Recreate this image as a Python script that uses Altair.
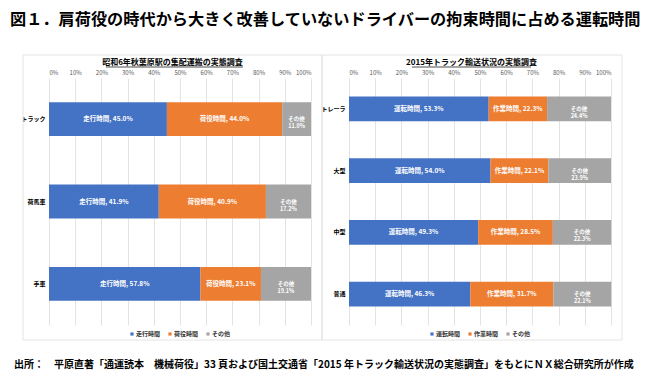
import altair as alt
import pandas as pd

title_text = "図１．肩荷役の時代から大きく改善していないドライバーの拘束時間に占める運転時間"
source_text = "出所：　平原直著「通運読本　機械荷役」33 頁および国土交通省「2015 年トラック輸送状況の実態調査」をもとにＮＸ総合研究所が作成"

left_title = "昭和6年秋葉原駅の集配運搬の実態調査"
left_categories = ["トラック", "荷馬車", "手車"]
left_series = ["走行時間", "荷役時間", "その他"]
left_run = [45.0, 41.9, 57.8]
left_handling = [44.0, 40.9, 23.1]
left_other = [11.0, 17.2, 19.1]

right_title = "2015年トラック輸送状況の実態調査"
right_categories = ["トレーラ", "大型", "中型", "普通"]
right_series = ["運転時間", "作業時間", "その他"]
right_drive = [53.3, 54.0, 49.3, 46.3]
right_work = [22.3, 22.1, 28.5, 31.7]
right_other = [24.4, 23.9, 22.3, 22.1]

tick_values = list(range(0, 101, 10))
colors = ["#4472C4", "#ED7D31", "#A5A5A5"]
FONT = "Noto Sans CJK JP"
W, H = 262, 247


def build_df(categories, series, cols):
    rows = []
    for i, cat in enumerate(categories):
        start = 0.0
        for j, s in enumerate(series):
            v = cols[j][i]
            last = j == len(series) - 1
            label = f"{s}\n{v:.1f}%" if last else f"{s}, {v:.1f}%"
            rows.append(dict(cat=cat, series=s, order=j, value=v, start=start,
                             end=start + v, mid=start + v / 2, label=label,
                             small=last))
            start += v
    return pd.DataFrame(rows)


dummy = pd.DataFrame({"a": [0]})

x_axis = alt.Axis(orient="top", values=tick_values, labelExpr="datum.value + '%'",
                  title=None, domain=False, ticks=False, grid=True, gridColor="#DCDCDC",
                  gridWidth=0.8, labelFont=FONT, labelFontSize=6, labelColor="#595959",
                  labelPadding=3, labelOverlap=False)
y_axis = alt.Axis(title=None, orient="left", domain=False, ticks=False,
                  labelFont=FONT, labelFontSize=6, labelFontWeight="bold",
                  labelColor="#000000", labelPadding=4)
xscale = alt.Scale(domain=[0, 100], nice=False)


def panel(df, categories, series, title, pad_inner, frame, sub_center,
          underline, legend_x, extras=()):
    yscale = alt.Scale(paddingInner=pad_inner, paddingOuter=pad_inner / 2)
    yenc = alt.Y("cat:N", sort=categories, scale=yscale, axis=y_axis)
    fr = alt.Chart(dummy).mark_rect(fillOpacity=0, stroke="#E4E4E4", strokeWidth=1).encode(
        x=alt.value(frame[0]), x2=alt.value(frame[1]),
        y=alt.value(frame[2]), y2=alt.value(frame[3]))
    sub = alt.Chart(dummy).mark_text(font=FONT, fontSize=8, fontWeight="bold",
                                     color="#000000", baseline="middle").encode(
        x=alt.value(sub_center), y=alt.value(-15), text=alt.value(title))
    ul = alt.Chart(dummy).mark_rule(color="#000000", strokeWidth=0.7).encode(
        x=alt.value(underline[0]), x2=alt.value(underline[1]), y=alt.value(-11))
    bars = alt.Chart(df).mark_bar().encode(
        x=alt.X("start:Q", scale=xscale, axis=x_axis),
        x2="end:Q",
        y=yenc,
        color=alt.Color("series:N", sort=series,
                        scale=alt.Scale(domain=series, range=colors),
                        legend=alt.Legend(orient="none", legendX=legend_x, legendY=253,
                                          direction="horizontal", title=None,
                                          symbolType="square", symbolSize=10,
                                          symbolStrokeWidth=0,
                                          labelFont=FONT, labelFontSize=6,
                                          labelFontWeight="bold", labelColor="#333333",
                                          columnPadding=6, labelOffset=1)),
    )
    main_lbl = alt.Chart(df).transform_filter("!datum.small").mark_text(
        font=FONT, fontSize=6.5, fontWeight="bold", color="white", baseline="middle").encode(
        x=alt.X("mid:Q", scale=xscale, axis=x_axis), y=yenc, text="label:N")
    small_lbl = alt.Chart(df).transform_filter("datum.small").mark_text(
        font=FONT, fontSize=5.5, fontWeight="bold", color="white", baseline="middle",
        lineBreak="\n", lineHeight=7).encode(
        x=alt.X("mid:Q", scale=xscale, axis=x_axis), y=yenc, text="label:N")
    layers = list(extras) + [fr, sub, ul, bars, main_lbl, small_lbl]
    return alt.layer(*layers).properties(width=W, height=H)


left_df = build_df(left_categories, left_series, [left_run, left_handling, left_other])
right_df = build_df(right_categories, right_series, [right_drive, right_work, right_other])

canvas = alt.Chart(dummy).mark_rect(fillOpacity=0, strokeOpacity=0).encode(
    x=alt.value(-49), x2=alt.value(601), y=alt.value(-78), y2=alt.value(299))
main_title = alt.Chart(dummy).mark_text(font=FONT, fontSize=16.2, fontWeight="bold",
                                        color="#000000", align="left",
                                        baseline="middle").encode(
    x=alt.value(-39), y=alt.value(-58), text=alt.value(title_text))
source = alt.Chart(dummy).mark_text(font=FONT, fontSize=10, fontWeight="bold",
                                    color="#000000", align="left",
                                    baseline="middle").encode(
    x=alt.value(-35), y=alt.value(287), text=alt.value(source_text))

left = panel(left_df, left_categories, left_series, left_title, 0.59,
             (-26, 273, -23, 262), 123.5, (57, 194), 80,
             extras=(canvas, main_title, source))
right = panel(right_df, right_categories, right_series, right_title, 0.6,
              (-27, 273, -23, 262), 122.5, (63, 182), 80)

chart = alt.hconcat(left, right, spacing=38, bounds="flush").resolve_scale(
    color="independent").properties(padding=0, background="white").configure_view(
    stroke=None)

chart.save("out.html", embed_options={"renderer": "svg", "actions": False})
